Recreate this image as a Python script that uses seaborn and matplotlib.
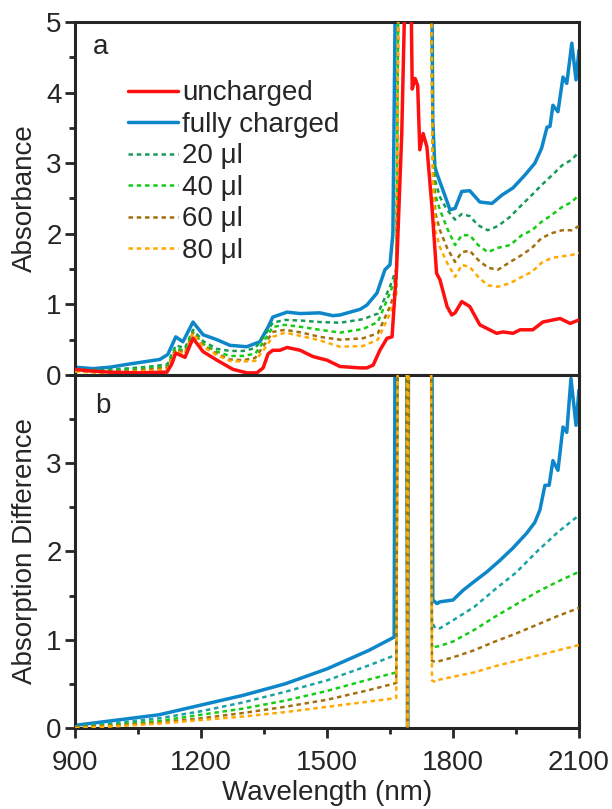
import matplotlib
matplotlib.use('Agg')
import matplotlib.pyplot as plt
import seaborn as sns
import numpy as np
from matplotlib.ticker import MultipleLocator

# ---- panel a: absorbance ----
red_x = [900, 930, 983, 1050, 1119, 1130, 1140, 1162, 1181, 1205, 1238, 1276, 1309, 1333, 1348,
         1360, 1371, 1388, 1405, 1436, 1467, 1500, 1531, 1579, 1595, 1610, 1626, 1643, 1655,
         1666, 1678, 1686, 1690, 1697, 1703, 1710, 1716, 1721, 1729, 1738, 1750, 1761, 1769,
         1786, 1797, 1805, 1821, 1840, 1864, 1904, 1919, 1943, 1960, 1990, 2014, 2055, 2079, 2100]
red_y = [0.08, 0.06, 0.04, 0.03, 0.04, 0.15, 0.31, 0.25, 0.52, 0.33, 0.21, 0.08, 0.03, 0.03, 0.10,
         0.30, 0.35, 0.35, 0.39, 0.35, 0.26, 0.21, 0.12, 0.10, 0.10, 0.14, 0.35, 0.52, 0.54,
         1.53, 3.40, 5.50, 7.00, 7.00, 4.05, 4.20, 4.10, 3.19, 3.42, 3.23, 2.38, 1.44, 1.35,
         0.97, 0.85, 0.88, 1.04, 0.97, 0.71, 0.59, 0.61, 0.59, 0.64, 0.64, 0.75, 0.80, 0.73, 0.78]

blue_x = [900, 943, 983, 1024, 1102, 1121, 1140, 1157, 1181, 1205, 1238, 1269, 1309, 1340, 1360,
          1371, 1405, 1436, 1483, 1514, 1531, 1579, 1595, 1619, 1638, 1650, 1657, 1663, 1668,
          1748, 1752, 1757, 1762, 1773, 1793, 1805, 1821, 1840, 1864, 1893, 1917, 1943, 1971,
          1995, 2011, 2024, 2031, 2038, 2050, 2062, 2071, 2083, 2093, 2100]
blue_y = [0.11, 0.09, 0.11, 0.15, 0.22, 0.29, 0.54, 0.47, 0.75, 0.57, 0.50, 0.42, 0.40, 0.47, 0.68,
          0.82, 0.89, 0.87, 0.88, 0.84, 0.85, 0.93, 0.99, 1.16, 1.49, 1.56, 2.00, 5.50, 7.00,
          7.00, 3.60, 2.95, 2.85, 2.67, 2.34, 2.36, 2.60, 2.61, 2.45, 2.43, 2.55, 2.65, 2.83,
          3.00, 3.21, 3.51, 3.52, 3.82, 3.73, 4.22, 4.13, 4.70, 4.18, 4.60]

dash_a_x = [900, 960, 1020, 1080, 1120, 1140, 1162, 1181, 1205, 1238, 1269, 1300, 1329, 1350,
            1371, 1400, 1440, 1483, 1531, 1586, 1621, 1650, 1665, 1672, 1746,
            1752, 1758, 1769, 1786, 1805, 1821, 1840, 1860, 1883, 1907, 1936, 1964, 1988,
            2011, 2036, 2060, 2083, 2100]
ul20_a = [0.08, 0.07, 0.09, 0.12, 0.15, 0.42, 0.38, 0.64, 0.48, 0.37, 0.34, 0.34, 0.38, 0.55,
          0.74, 0.78, 0.77, 0.75, 0.74, 0.79, 0.87, 1.25, 1.50, 7.00, 7.00,
          3.40, 2.75, 2.52, 2.34, 2.20, 2.28, 2.25, 2.12, 2.05, 2.11, 2.24, 2.41, 2.55,
          2.69, 2.83, 2.97, 3.05, 3.16]
ul40_a = [0.07, 0.05, 0.07, 0.10, 0.12, 0.38, 0.34, 0.61, 0.44, 0.33, 0.27, 0.27, 0.30, 0.48,
          0.68, 0.71, 0.68, 0.64, 0.60, 0.65, 0.75, 1.16, 1.40, 7.00, 7.00,
          3.20, 2.55, 2.34, 2.08, 1.84, 1.98, 1.98, 1.84, 1.74, 1.80, 1.84, 1.98, 2.05,
          2.17, 2.27, 2.38, 2.45, 2.55]
ul60_a = [0.06, 0.04, 0.05, 0.08, 0.10, 0.36, 0.31, 0.60, 0.42, 0.30, 0.22, 0.21, 0.24, 0.42,
          0.61, 0.64, 0.60, 0.54, 0.50, 0.52, 0.59, 0.97, 1.25, 7.00, 7.00,
          3.00, 2.30, 2.05, 1.80, 1.60, 1.74, 1.76, 1.63, 1.52, 1.49, 1.60, 1.70, 1.80,
          1.94, 2.01, 2.05, 2.05, 2.11]
ul80_a = [0.05, 0.03, 0.04, 0.06, 0.08, 0.34, 0.29, 0.59, 0.40, 0.28, 0.20, 0.19, 0.20, 0.36,
          0.54, 0.60, 0.55, 0.49, 0.40, 0.41, 0.50, 0.87, 1.15, 7.00, 7.00,
          2.80, 2.05, 1.81, 1.59, 1.39, 1.56, 1.53, 1.39, 1.27, 1.25, 1.30, 1.39, 1.46,
          1.59, 1.66, 1.68, 1.70, 1.73]

# ---- panel b: absorption difference ----
blue_b_x = [900, 1000, 1100, 1200, 1300, 1400, 1500, 1600, 1660, 1663, 1689, 1692, 1695, 1749,
            1752, 1762, 1769, 1800, 1824, 1848, 1881, 1912, 1943, 1976, 1995, 2007, 2019, 2029,
            2038, 2050, 2062, 2071, 2081, 2093, 2100]
blue_b_y = [0.03, 0.09, 0.15, 0.26, 0.37, 0.50, 0.67, 0.88, 1.03, 6.00, 6.00, 0.00, 6.00, 6.00,
            1.45, 1.41, 1.43, 1.45, 1.56, 1.65, 1.77, 1.90, 2.04, 2.21, 2.33, 2.47, 2.75, 2.75,
            3.03, 2.92, 3.41, 3.35, 3.96, 3.43, 3.83]

dash_b_x = [900, 1000, 1100, 1200, 1300, 1400, 1500, 1600, 1665, 1670, 1689, 1692, 1695, 1747,
            1750, 1758, 1769, 1800, 1850, 1900, 1950, 2000, 2050, 2100]
ul20_b = [0.02, 0.06, 0.11, 0.19, 0.29, 0.41, 0.54, 0.71, 0.83, 6.00, 6.00, 0.00, 6.00, 6.00,
          1.20, 1.13, 1.13, 1.22, 1.37, 1.57, 1.76, 2.00, 2.22, 2.41]
ul40_b = [0.01, 0.04, 0.08, 0.15, 0.22, 0.31, 0.42, 0.55, 0.63, 6.00, 6.00, 0.00, 6.00, 6.00,
          0.90, 0.92, 0.93, 0.98, 1.11, 1.26, 1.40, 1.54, 1.66, 1.77]
ul60_b = [0.01, 0.03, 0.06, 0.11, 0.17, 0.24, 0.32, 0.43, 0.51, 6.00, 6.00, 0.00, 6.00, 6.00,
          0.76, 0.75, 0.76, 0.80, 0.88, 0.98, 1.07, 1.17, 1.27, 1.36]
ul80_b = [0.00, 0.02, 0.05, 0.09, 0.13, 0.18, 0.24, 0.30, 0.34, 6.00, 6.00, 0.00, 6.00, 6.00,
          0.54, 0.52, 0.55, 0.58, 0.63, 0.70, 0.76, 0.82, 0.88, 0.94]

labels = ['uncharged', 'fully charged', '20 \u03bcl', '40 \u03bcl', '60 \u03bcl', '80 \u03bcl']
c_red = '#ff1010'
c_blue = '#0d87c9'
c_20a = '#179b58'
c_20b = '#1ba2a2'
c_40 = '#14cc14'
c_60 = '#a2700e'
c_80 = '#ffaa00'

sns.set_style('ticks')
plt.rcParams['font.family'] = ['Liberation Sans', 'DejaVu Sans']
plt.rcParams['font.size'] = 20
plt.rcParams['axes.linewidth'] = 2.2

fig = plt.figure(figsize=(6.12, 8.09), dpi=100)
ax1 = fig.add_axes([0.1225, 0.5365, 0.8235, 0.4363])
ax2 = fig.add_axes([0.1225, 0.1001, 0.8235, 0.4364])

solid_lw = 2.5
dash_lw = 1.8
dash_ls = (0, (1.8, 1.5))

# panel a
sns.lineplot(x=blue_x, y=blue_y, ax=ax1, color=c_blue, lw=solid_lw, sort=False, estimator=None, zorder=2)
for yy, cc in [(ul20_a, c_20a), (ul40_a, c_40), (ul60_a, c_60), (ul80_a, c_80)]:
    sns.lineplot(x=dash_a_x, y=yy, ax=ax1, color=cc, lw=dash_lw, linestyle=dash_ls,
                 sort=False, estimator=None, zorder=3)
sns.lineplot(x=red_x, y=red_y, ax=ax1, color=c_red, lw=solid_lw, sort=False, estimator=None, zorder=4)

# panel b
sns.lineplot(x=blue_b_x, y=blue_b_y, ax=ax2, color=c_blue, lw=solid_lw, sort=False, estimator=None, zorder=2)
for yy, cc in [(ul20_b, c_20b), (ul40_b, c_40), (ul60_b, c_60), (ul80_b, c_80)]:
    sns.lineplot(x=dash_b_x, y=yy, ax=ax2, color=cc, lw=dash_lw, linestyle=dash_ls,
                 sort=False, estimator=None, zorder=3)

for ax in (ax1, ax2):
    ax.set_xlim(900, 2100)
    ax.yaxis.set_minor_locator(MultipleLocator(0.5))
    ax.tick_params(axis='both', which='major', direction='out', length=7, width=2, labelsize=20,
                   top=False, right=False, pad=2.5)
    ax.tick_params(axis='both', which='minor', direction='out', length=4.3, width=2,
                   top=False, right=False)
    for s in ax.spines.values():
        s.set_visible(True)
        s.set_linewidth(2.2)

ax1.set_ylim(0, 5)
ax1.set_yticks([0, 1, 2, 3, 4, 5])
ax1.set_xticks([])
ax1.tick_params(axis='x', which='both', bottom=False, labelbottom=False)
ax1.set_ylabel('Absorbance', fontsize=20, labelpad=6)
ax1.set_xlabel('')

ax2.set_ylim(0, 4)
ax2.set_yticks([0, 1, 2, 3])
ax2.set_xticks([900, 1200, 1500, 1800, 2100])
ax2.xaxis.set_minor_locator(MultipleLocator(150))
ax2.tick_params(axis='x', which='major', pad=9)
ax2.set_ylabel('Absorption Difference', fontsize=20, labelpad=6)
ax2.set_xlabel('Wavelength (nm)', fontsize=20, labelpad=3)

ax1.text(0.05, 0.929, 'a', transform=ax1.transAxes, fontsize=20, ha='center', va='center')
ax2.text(0.056, 0.912, 'b', transform=ax2.transAxes, fontsize=20, ha='center', va='center')

# legend handles in reference order
h = ax1.get_lines()
handles = [h[5], h[0], h[1], h[2], h[3], h[4]]
ax1.legend(handles, labels, loc='upper left', bbox_to_anchor=(0.105, 0.835), frameon=False,
           fontsize=20, handlelength=1.8, handletextpad=0.15, labelspacing=0.2,
           borderpad=0, borderaxespad=0)

fig.savefig('out.png', dpi=100)
